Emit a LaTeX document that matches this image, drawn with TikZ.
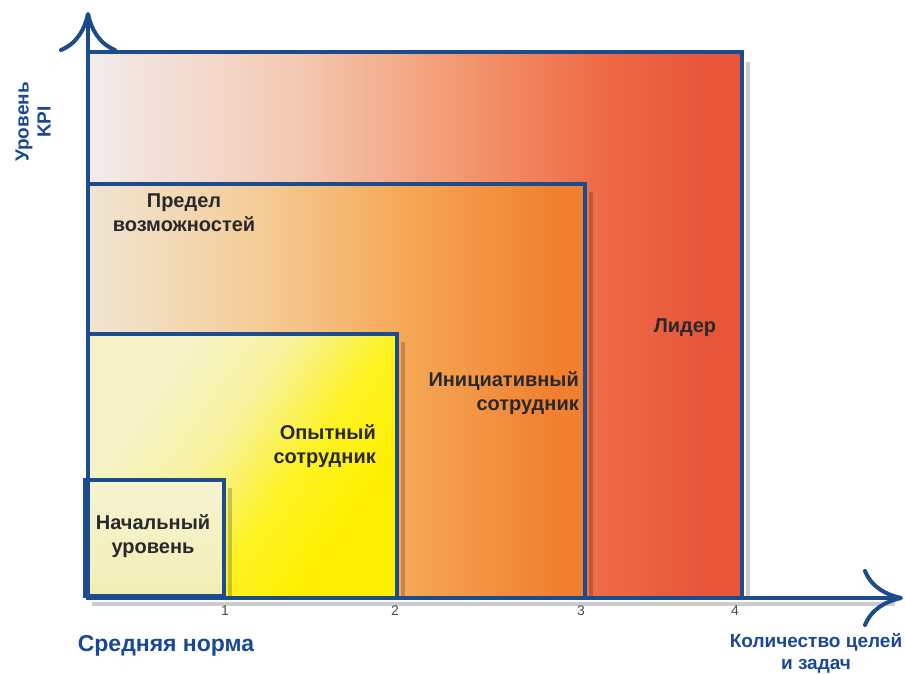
\documentclass[tikz,border=0pt]{standalone}
\usepackage{fontspec}
\setmainfont{Liberation Sans}
\usepackage{xcolor}
\usetikzlibrary{positioning,arrows.meta}

\definecolor{axisblue}{RGB}{29,76,140}
\definecolor{labelblue}{RGB}{26,72,150}
\definecolor{labelgray}{RGB}{40,40,45}
\definecolor{lead0}{HTML}{F2ECEB}
\definecolor{lead1}{HTML}{F3C9B2}
\definecolor{lead2}{HTML}{F39A72}
\definecolor{lead3}{HTML}{EE6B46}
\definecolor{lead4}{HTML}{E8563A}
\definecolor{limit0}{HTML}{F0E5D3}
\definecolor{limit1}{HTML}{F4CD98}
\definecolor{limit2}{HTML}{F5A552}
\definecolor{limit3}{HTML}{F08030}
\definecolor{exp0}{HTML}{F5F2C8}
\definecolor{exp1}{HTML}{F8F29A}
\definecolor{exp2}{HTML}{FDF225}
\definecolor{exp3}{HTML}{FFF000}
\definecolor{novice0}{HTML}{F6F4D2}
\definecolor{novice1}{HTML}{F1EEB4}

\pgfdeclarehorizontalshading{leadershade}{100bp}{color(0bp)=(lead0); color(25bp)=(lead0); color(41bp)=(lead1); color(53bp)=(lead2); color(64bp)=(lead3); color(72bp)=(lead4); color(100bp)=(lead4)}
\pgfdeclarehorizontalshading{limitshade}{100bp}{color(0bp)=(limit0); color(25bp)=(limit0); color(42bp)=(limit1); color(58bp)=(limit2); color(72bp)=(limit3); color(100bp)=(limit3)}
\pgfdeclarehorizontalshading{expertshade}{100bp}{color(0bp)=(exp0); color(30bp)=(exp0); color(45bp)=(exp1); color(58bp)=(exp2); color(70bp)=(exp3); color(100bp)=(exp3)}

\begin{document}
\begin{tikzpicture}[x=1pt, y=-1pt,
  frame/.style={draw=axisblue, line width=3.5pt},
  edgeshadow/.style={draw=black, draw opacity=0.2, line width=4pt},
  axis/.style={draw=axisblue, line width=4pt, -{Computer Modern Rightarrow[length=40pt,width=58pt]}},
  level/.style={font=\fontsize{20}{24}\selectfont\bfseries, text=labelgray, align=center, inner sep=0pt},
  axislabel/.style={font=\fontsize{19}{22}\selectfont\bfseries, text=labelblue, align=center, inner sep=0pt},
  tick/.style={font=\fontsize{14}{16}\selectfont, text=gray!60!black, inner sep=0pt}
]
\useasboundingbox (0,0) rectangle (905,674);

% Leader
\shade[shading=leadershade] (88,52) rectangle (742,598);
\draw[edgeshadow] (748,62) -- (748,598);
\draw[frame] (88,52) rectangle (742,598);

% Limit of abilities
\shade[shading=limitshade] (88,184) rectangle (585,598);
\draw[edgeshadow] (591,192) -- (591,598);
\draw[frame] (88,184) rectangle (585,598);

% Experienced
\shade[shading=expertshade, shading angle=-35] (88,334) rectangle (397,598);
\draw[edgeshadow] (403,342) -- (403,598);
\draw[frame] (88,334) rectangle (397,598);

% Beginner
\shade[top color=novice0, bottom color=novice1] (85,480) rectangle (224,596);
\draw[edgeshadow] (230,488) -- (230,598);
\draw[frame] (85,480) rectangle (224,596);

% Axes
\coordinate (origin) at (88,600);
\coordinate (ytip) at (88,12);
\coordinate (xstart) at (86,598);
\coordinate (xtip) at (903,598);
\draw[edgeshadow] (92,604) -- (895,604);
\draw[axis] (origin) -- (ytip);
\draw[axis] (xstart) -- (xtip);

% Tick labels
\coordinate (c1) at (225,598);
\coordinate (c2) at (395,598);
\coordinate (c3) at (581,598);
\coordinate (c4) at (735,598);
\node[tick, below=8pt of c1] (tick1) {1};
\node[tick, below=8pt of c2] (tick2) {2};
\node[tick, below=8pt of c3] (tick3) {3};
\node[tick, below=8pt of c4] (tick4) {4};

% Level names
\node[level] (limit) at (184,213) {Предел\\возможностей};
\node[level] (leader) at (685,328) {Лидер};
\node[level, align=right, anchor=east] (initiative) at (579,393) {Инициативный\\сотрудник};
\node[level, align=right, anchor=east] (expert) at (376,446) {Опытный\\сотрудник};
\node[level] (novice) at (153,536) {Начальный\\уровень};

% Axis titles
\node[axislabel, rotate=90] (kpi) at (33,122) {Уровень\\KPI};
\node[axislabel, font=\fontsize{23}{26}\selectfont\bfseries] (norm) at (166,646) {Средняя норма};
\node[axislabel] (goals) at (816,653) {Количество целей\\и задач};

\end{tikzpicture}
\end{document}
